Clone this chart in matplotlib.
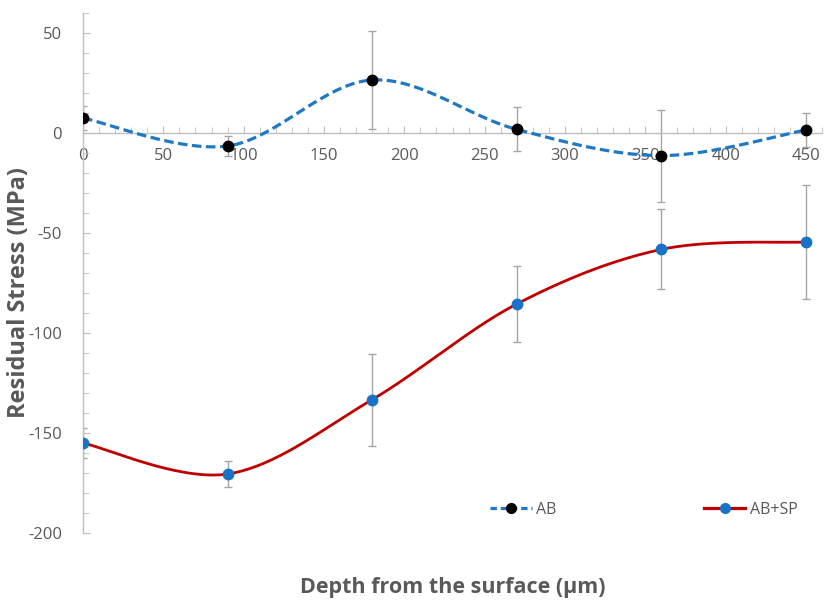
import numpy as np
import matplotlib
matplotlib.use("Agg")
import matplotlib.pyplot as plt
from matplotlib.ticker import MultipleLocator

plt.rcParams["font.family"] = ["Open Sans", "DejaVu Sans"]
plt.rcParams["axes.unicode_minus"] = False

depth = [0, 90, 180, 270, 360, 450]
ab = [7.5, -6.5, 26.5, 1.8, -11.3, 1.5]
ab_err = [6, 5, 24.5, 11, 23, 8.3]
absp = [-155, -170.5, -133.3, -85.5, -58.2, -54.5]
absp_err = [7.5, 6.5, 23, 19, 20, 28.5]


def smooth(x, y, n=40):
    # Excel-style smoothed line: Catmull-Rom bezier segments
    x = np.asarray(x, float)
    y = np.asarray(y, float)
    px = np.concatenate([[x[0]], x, [x[-1]]])
    py = np.concatenate([[y[0]], y, [y[-1]]])
    xs, ys = [], []
    t = np.linspace(0, 1, n)
    for i in range(1, len(px) - 2):
        p0 = np.array([px[i], py[i]])
        p3 = np.array([px[i + 1], py[i + 1]])
        c1 = p0 + (p3 - np.array([px[i - 1], py[i - 1]])) / 6
        c2 = p3 - (np.array([px[i + 2], py[i + 2]]) - p0) / 6
        b = ((1 - t) ** 3)[:, None] * p0 + (3 * (1 - t) ** 2 * t)[:, None] * c1 \
            + (3 * (1 - t) * t ** 2)[:, None] * c2 + (t ** 3)[:, None] * p3
        xs.extend(b[:, 0])
        ys.extend(b[:, 1])
    return xs, ys


fig = plt.figure(figsize=(8.26, 6.03), dpi=100)
ax = fig.add_axes([83 / 826, 1 - 533 / 603, (822 - 83) / 826, (533 - 13) / 603])

grey = "#595959"
err_col = "#A6A6A6"
blue = "#1f78c4"
red = "#C00000"

ax.errorbar(depth, ab, yerr=ab_err, fmt="none", ecolor=err_col, elinewidth=1,
            capsize=3, capthick=1, zorder=2)
ax.errorbar(depth, absp, yerr=absp_err, fmt="none", ecolor=err_col, elinewidth=1,
            capsize=3, capthick=1, zorder=2)

sx, sy = smooth(depth, ab)
ax.plot(sx, sy, color=blue, lw=2.3, dashes=(3, 1.4), zorder=3)
sx, sy = smooth(depth, absp)
ax.plot(sx, sy, color=red, lw=2.0, zorder=3)
ax.plot(depth, ab, "o", color="black", ms=7.5, zorder=4)
ax.plot(depth, absp, "o", color="#1a72c6", ms=7.5, zorder=4)

# legend handles
h1, = ax.plot([], [], color=blue, lw=2.3, dashes=(2, 1.2), marker="o",
              mfc="black", mec="black", ms=7)
h2, = ax.plot([], [], color=red, lw=2.3, marker="o", mfc="#1a72c6",
              mec="#1a72c6", ms=7)
leg = fig.legend([h1, h2], ["AB", "AB+SP"], ncol=2, loc="center",
                 bbox_to_anchor=(644 / 826, 1 - 510 / 603), frameon=False,
                 fontsize=11.5, handlelength=2.6, handletextpad=0.3,
                 columnspacing=9.2)
for t in leg.get_texts():
    t.set_color(grey)

ax.set_xlim(0, 460)
ax.set_ylim(-200, 60)
ax.spines["top"].set_visible(False)
ax.spines["right"].set_visible(False)
ax.spines["bottom"].set_position(("data", 0))
for s in ("left", "bottom"):
    ax.spines[s].set_color("#BFBFBF")
    ax.spines[s].set_linewidth(1)

ax.xaxis.set_major_locator(MultipleLocator(50))
ax.xaxis.set_minor_locator(MultipleLocator(10))
ax.yaxis.set_major_locator(MultipleLocator(50))
ax.yaxis.set_minor_locator(MultipleLocator(10))
ax.set_yticks([-200, -150, -100, -50, 0, 50])
ax.tick_params(which="both", direction="in", color="#BFBFBF", labelcolor=grey,
               labelsize=12)
ax.tick_params(which="major", length=5)
ax.tick_params(which="minor", length=4)
ax.tick_params(axis="x", pad=11)
ax.tick_params(axis="y", pad=15)

fig.text(19 / 826, 1 - 292 / 603, "Residual Stress (MPa)", rotation=90,
         ha="center", va="center", fontsize=17, fontweight="bold", color=grey)
fig.text(453 / 826, 1 - 588 / 603, "Depth from the surface (µm)",
         ha="center", va="center", fontsize=15.5, fontweight="bold", color=grey)

fig.savefig("out.png", dpi=100)
